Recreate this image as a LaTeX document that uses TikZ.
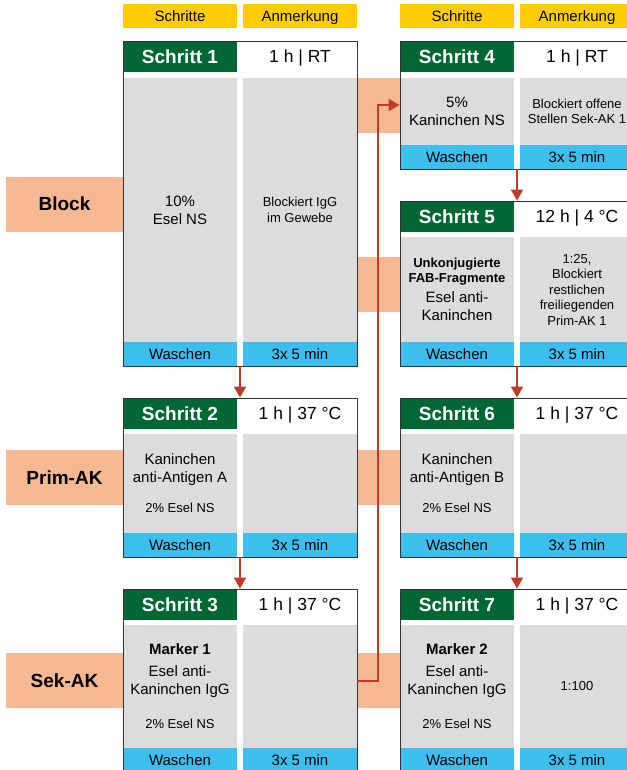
\documentclass[tikz,border=0pt]{standalone}
\usepackage{fontspec}
\setmainfont{Liberation Sans}
\usetikzlibrary{arrows.meta}
\definecolor{headyellow}{HTML}{FFCC00}
\definecolor{stepgreen}{HTML}{006633}
\definecolor{cellgrey}{HTML}{DCDCDC}
\definecolor{washblue}{HTML}{3CBEEE}
\definecolor{bandsalmon}{HTML}{F5B893}
\definecolor{arrowred}{HTML}{BE3A2A}
\definecolor{framegrey}{HTML}{333333}
\newcommand{\smallfs}{\fontsize{13}{15}\selectfont}

\begin{document}
\begin{tikzpicture}[x=1pt, y=-1pt,
  colhead/.style={fill=headyellow, minimum width=114, minimum height=24, inner sep=0pt, text height=10.7pt, text depth=0pt, font=\fontsize{15}{18}\selectfont},
  headn/.style={fill=stepgreen, text=white, minimum width=114, minimum height=31, inner sep=0pt, text height=13.6pt, text depth=0pt, font=\bfseries\fontsize{19}{22}\selectfont},
  timen/.style={minimum width=114, minimum height=31, inner sep=0pt, text height=12.5pt, text depth=0pt, font=\fontsize{17.5}{20}\selectfont},
  celln/.style={fill=cellgrey, minimum width=114, inner sep=0pt, align=center, font=\fontsize{15}{18}\selectfont},
  noten/.style={celln, font=\fontsize{13}{15.5}\selectfont},
  washn/.style={fill=washblue, minimum width=114, minimum height=24, inner sep=0pt, text height=10.7pt, text depth=0pt, font=\fontsize{15}{18}\selectfont},
  framen/.style={draw=framegrey, line width=0.9pt, minimum width=234, inner sep=0pt},
  bandn/.style={fill=bandsalmon, minimum height=55, inner sep=0pt, text height=13.6pt, text depth=0pt, font=\bfseries\fontsize{19}{22}\selectfont},
  flowedge/.style={draw=arrowred, line width=2pt, -{Triangle[length=11pt, width=12pt]}}
]
  \useasboundingbox (0,0) rectangle (626,770);
  % column headings
  \node[colhead] (CS1) at (180,16) {Schritte};  \node[colhead] (CA1) at (300,16) {Anmerkung};
  \node[colhead] (CS2) at (457,16) {Schritte};  \node[colhead] (CA2) at (577,16) {Anmerkung};
  % bands
  \node[bandn, minimum width=117] (LB) at (64.5,204)   {Block};
  \node[bandn, minimum width=117] (LP) at (64.5,477.5) {Prim-AK};
  \node[bandn, minimum width=117] (LS) at (64.5,680.5) {Sek-AK};
  \node[bandn, minimum width=43]  (R4) at (378.5,105.5) {};
  \node[bandn, minimum width=43]  (R5) at (378.5,284)   {};
  \node[bandn, minimum width=43]  (R6) at (378.5,477.5) {};
  \node[bandn, minimum width=43]  (R7) at (378.5,680.5) {};
  % step 1
  \node[headn] (H1) at (180,56.5) {Schritt 1};  \node[timen] (T1) at (300,56.5) {1 h | RT};
  \node[celln, minimum height=264] (C1) at (180,210) {10\%\\Esel NS};
  \node[noten, minimum height=264] (N1) at (300,210) {Blockiert IgG\\im Gewebe};
  \node[washn] (W1) at (180,354) {Waschen};  \node[washn] (M1) at (300,354) {3x 5 min};
  \node[framen, minimum height=325] (B1) at (240,203.5) {};
  % step 2
  \node[headn] (H2) at (180,413.5) {Schritt 2};  \node[timen] (T2) at (300,413.5) {1 h | 37 °C};
  \node[celln, minimum height=99] (C2) at (180,483.5) {Kaninchen\\anti-Antigen A\\[12pt]{\smallfs 2\% Esel NS}};
  \node[noten, minimum height=99] (N2) at (300,483.5) {};
  \node[washn] (W2) at (180,545) {Waschen};  \node[washn] (M2) at (300,545) {3x 5 min};
  \node[framen, minimum height=159] (B2) at (240,477.5) {};
  % step 3
  \node[headn] (H3) at (180,604.5) {Schritt 3};  \node[timen] (T3) at (300,604.5) {1 h | 37 °C};
  \node[celln, minimum height=123] (C3) at (180,686.5) {\textbf{Marker 1}\\[4pt]Esel anti-\\Kaninchen IgG\\[16pt]{\smallfs 2\% Esel NS}};
  \node[noten, minimum height=123] (N3) at (300,686.5) {};
  \node[washn] (W3) at (180,760) {Waschen};  \node[washn] (M3) at (300,760) {3x 5 min};
  \node[framen, minimum height=183] (B3) at (240,680.5) {};
  % step 4
  \node[headn] (H4) at (457,56.5) {Schritt 4};  \node[timen] (T4) at (577,56.5) {1 h | RT};
  \node[celln, minimum height=67] (C4) at (457,111.5) {5\%\\Kaninchen NS};
  \node[noten, minimum height=67] (N4) at (577,111.5) {Blockiert offene\\Stellen Sek-AK 1};
  \node[washn] (W4) at (457,157) {Waschen};  \node[washn] (M4) at (577,157) {3x 5 min};
  \node[framen, minimum height=128] (B4) at (517,105) {};
  % step 5
  \node[headn] (H5) at (457,216.5) {Schritt 5};  \node[timen] (T5) at (577,216.5) {12 h | 4 °C};
  \node[celln, minimum height=105] (C5) at (457,289.5) {{\smallfs\bfseries Unkonjugierte}\\[-3pt]{\smallfs\bfseries FAB-Fragmente}\\[2pt]Esel anti-\\Kaninchen};
  \node[noten, minimum height=105] (N5) at (577,289.5) {1:25,\\Blockiert\\restlichen\\freiliegenden\\Prim-AK 1};
  \node[washn] (W5) at (457,354) {Waschen};  \node[washn] (M5) at (577,354) {3x 5 min};
  \node[framen, minimum height=165] (B5) at (517,283.5) {};
  % step 6
  \node[headn] (H6) at (457,413.5) {Schritt 6};  \node[timen] (T6) at (577,413.5) {1 h | 37 °C};
  \node[celln, minimum height=99] (C6) at (457,483.5) {Kaninchen\\anti-Antigen B\\[12pt]{\smallfs 2\% Esel NS}};
  \node[noten, minimum height=99] (N6) at (577,483.5) {};
  \node[washn] (W6) at (457,545) {Waschen};  \node[washn] (M6) at (577,545) {3x 5 min};
  \node[framen, minimum height=159] (B6) at (517,477.5) {};
  % step 7
  \node[headn] (H7) at (457,604.5) {Schritt 7};  \node[timen] (T7) at (577,604.5) {1 h | 37 °C};
  \node[celln, minimum height=123] (C7) at (457,686.5) {\textbf{Marker 2}\\[4pt]Esel anti-\\Kaninchen IgG\\[16pt]{\smallfs 2\% Esel NS}};
  \node[noten, minimum height=123] (N7) at (577,686.5) {1:100};
  \node[washn] (W7) at (457,760) {Waschen};  \node[washn] (M7) at (577,760) {3x 5 min};
  \node[framen, minimum height=183] (B7) at (517,680.5) {};
  % flow
  \draw[flowedge] (B1.south) -- (B2.north);
  \draw[flowedge] (B2.south) -- (B3.north);
  \draw[flowedge] (B4.south) -- (B5.north);
  \draw[flowedge] (B5.south) -- (B6.north);
  \draw[flowedge] (B6.south) -- (B7.north);
  \draw[flowedge] (B3.east) -- ++(21,0) |- (B4.west);
\end{tikzpicture}
\end{document}
